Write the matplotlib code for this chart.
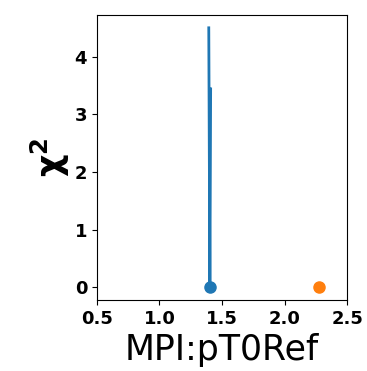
import matplotlib
matplotlib.use('Agg')
import matplotlib.pyplot as plt

# scan values (chi2 vs parameter)
scanX = [1.394, 1.403, 1.409]
scanY = [4.5, 0.0, 3.44]
# best fit point and reference value
bestX = [1.404]
bestY = [0.0]
refX = [2.278]
refY = [0.0]

fig = plt.figure(figsize=(3.67, 3.71), dpi=100)
ax = fig.add_axes([0.264, 0.191, 0.682, 0.769])

ax.plot(scanX, scanY, "-", color="C0", lw=2)
ax.plot(bestX, bestY, "o", color="C0", ms=8)
ax.plot(refX, refY, "o", color="C1", ms=8)

ax.set_xlim(0.5, 2.5)
ax.set_xticks([0.5, 1.0, 1.5, 2.0, 2.5])
ax.set_yticks([0, 1, 2, 3, 4])
for lab in ax.get_xticklabels() + ax.get_yticklabels():
    lab.set_fontweight("bold")
    lab.set_fontsize(13)

ax.set_xlabel("MPI:pT0Ref", fontsize=25)
ax.set_ylabel(r"$\mathbf{\chi^2}$", fontsize=25, labelpad=2)

fig.savefig("out.png", dpi=100)
